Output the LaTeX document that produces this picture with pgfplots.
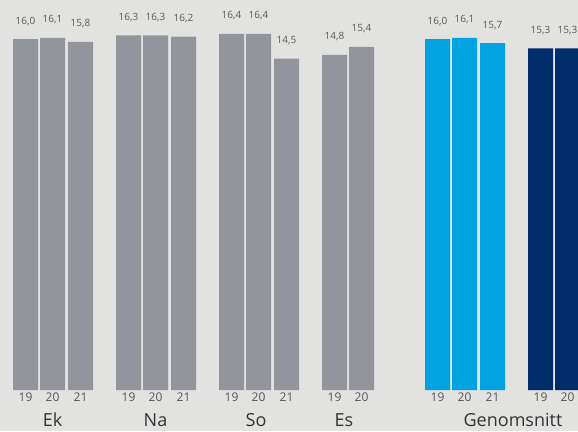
\documentclass[border=0pt]{standalone}
\usepackage{fontspec}
\setmainfont{Open Sans}
\usepackage{pgfplots}
\usepackage{pgfplotstable}
\pgfplotsset{compat=1.18}
\definecolor{bg}{HTML}{E2E2E0}
\definecolor{grayb}{HTML}{92959B}
\definecolor{cyanb}{HTML}{00A2DF}
\definecolor{navyb}{HTML}{002C6B}
\definecolor{labc}{HTML}{5A5A5A}
\definecolor{tickc}{HTML}{555555}
\definecolor{namec}{HTML}{333333}

\pgfplotstableread{
x y lab
25.5 16.0 16,0
52.5 16.1 16,1
80.5 15.8 15,8
128.5 16.3 16,3
155.5 16.3 16,3
183.5 16.2 16,2
231.5 16.4 16,4
258.5 16.4 16,4
286.5 14.5 14,5
334.5 14.8 14,8
361.5 15.4 15,4
}\graydata
\pgfplotstableread{
x y lab
437.5 16.0 16,0
464.5 16.1 16,1
492.5 15.7 15,7
}\cyandata
\pgfplotstableread{
x y lab
540.5 15.3 15,3
567.5 15.3 15,3
}\navydata

\begin{document}
\begin{tikzpicture}
\path[use as bounding box, fill=bg] (0,-41pt) rectangle (578pt,390pt);
\begin{axis}[
  at={(0,0)}, anchor=south west,
  width=578pt, height=390pt, scale only axis,
  xmin=0, xmax=578, ymin=-10.985, ymax=19.015,
  y coord trafo/.code={\pgfmathparse{#1+10.985}},
  y coord inv trafo/.code={\pgfmathparse{#1-10.985}},
  ybar, bar width=25,
  axis line style={draw=none},
  ytick=\empty, major tick length=0pt,
  xtick={25.5,52.5,80.5,128.5,155.5,183.5,231.5,258.5,286.5,334.5,361.5,437.5,464.5,492.5,540.5,567.5},
  xticklabels={19,20,21,19,20,21,19,20,21,19,20,19,20,21,19,20},
  xticklabel style={font=\fontsize{12}{12}\selectfont, text=tickc, anchor=base, yshift=-11.5pt, inner sep=0pt},
  clip=false,
  nodes near coords, point meta=explicit symbolic,
  nodes near coords style={font=\fontsize{10}{10}\selectfont, text=labc, anchor=base, inner sep=0pt, yshift=15pt},
]
\addplot[fill=grayb, draw=none, bar shift=0pt] table[x=x, y=y, meta=lab] {\graydata};
\addplot[fill=cyanb, draw=none, bar shift=0pt] table[x=x, y=y, meta=lab] {\cyandata};
\addplot[fill=navyb, draw=none, bar shift=0pt] table[x=x, y=y, meta=lab] {\navydata};
\node[font=\fontsize{18}{18}\selectfont, text=namec, anchor=base, yshift=-36.5pt] at (axis cs:52.5,-10.985) {Ek};
\node[font=\fontsize{18}{18}\selectfont, text=namec, anchor=base, yshift=-36.5pt] at (axis cs:155.5,-10.985) {Na};
\node[font=\fontsize{18}{18}\selectfont, text=namec, anchor=base, yshift=-36.5pt] at (axis cs:256,-10.985) {So};
\node[font=\fontsize{18}{18}\selectfont, text=namec, anchor=base, yshift=-36.5pt] at (axis cs:344,-10.985) {Es};
\node[font=\fontsize{18}{18}\selectfont, text=namec, anchor=base, yshift=-36.5pt] at (axis cs:513,-10.985) {Genomsnitt};
\end{axis}
\end{tikzpicture}
\end{document}
